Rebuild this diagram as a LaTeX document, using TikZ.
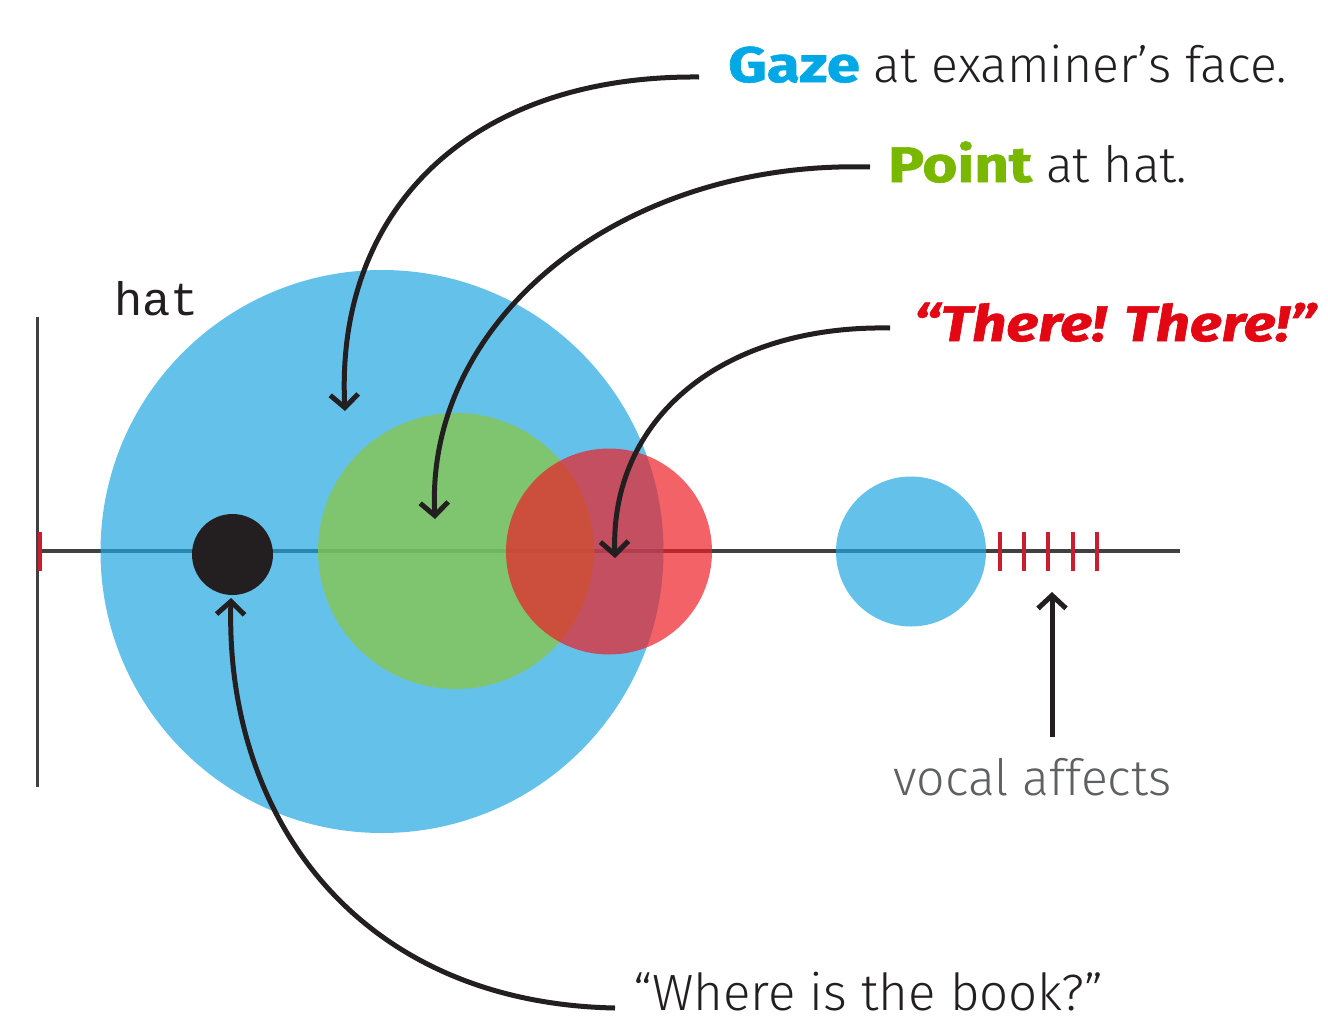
\documentclass[tikz,border=0pt]{standalone}
\usepackage{fontspec}
\setsansfont{Fira Sans}
\newfontfamily\lightf{Fira Sans Light}
\setmonofont{Liberation Mono}
\usetikzlibrary{arrows.meta}
\definecolor{ink}{RGB}{35,31,32}
\definecolor{axis}{RGB}{64,64,64}
\definecolor{cblue}{RGB}{30,167,225}
\definecolor{cgreen}{RGB}{137,197,71}
\definecolor{cred}{RGB}{236,31,39}
\definecolor{tickred}{RGB}{200,30,45}
\definecolor{gazeblue}{RGB}{0,169,230}
\definecolor{pointgreen}{RGB}{122,184,0}
\definecolor{therered}{RGB}{227,6,19}
\definecolor{vocgray}{RGB}{95,96,98}
\newcommand{\heavy}[2]{{\sffamily\bfseries\addfontfeature{FakeBold=1.2}\color{#1}\scalebox{1.2}[1]{#2}}}
\begin{document}
\begin{tikzpicture}[x=1pt,y=-1pt,
  arr/.style={draw=ink, line width=5pt, -{Straight Barb[length=13pt,width=28pt,line width=5pt]}},
  disc/.style={circle, inner sep=0pt, draw=none},
  lbl/.style={anchor=base west, inner sep=0pt, font=\lightf\fontsize{50}{60}\selectfont, text=ink},
  tickmark/.style={draw=tickred, line width=3.5pt}]
\useasboundingbox (0,0) rectangle (1328,1023);
% axes
\coordinate (vtop) at (37,317);
\coordinate (vbot) at (37,787);
\draw[draw=axis, line width=3pt] (vtop) -- (vbot);
\coordinate (hl) at (37,551);
\coordinate (hr) at (1180,551);
\draw[draw=axis, line width=4.5pt] (hl) -- (hr);
\draw[tickmark] (40,532) -- (40,571);
% circles
\node[disc, fill=cblue, fill opacity=0.69, minimum size=563pt] (gazeC) at (382,551.5) {};
\node[disc, fill=cgreen, fill opacity=0.75, minimum size=276pt] (pointC) at (456,551) {};
\node[disc, fill=cred, fill opacity=0.7, minimum size=206pt] (thereC) at (609,551.5) {};
\node[disc, fill=ink, minimum size=81pt] (dot) at (232.5,554.5) {};
\node[disc, fill=cblue, fill opacity=0.69, minimum size=150pt] (smallC) at (911,551.5) {};
% red ticks
\foreach \x in {1000,1024,1048,1073,1097}
  \draw[tickmark] (\x,532) -- (\x,571);
% labels
\node[lbl] (gazeT) at (728,82) {\heavy{gazeblue}{Gaze} at examiner’s face.};
\node[lbl] (pointT) at (888,182) {\heavy{pointgreen}{Point} at hat.};
\node[lbl, font=\sffamily\bfseries\itshape\fontsize{50}{60}\selectfont, text=therered] (thereT) at (913,341) {\addfontfeature{FakeBold=1.2}\scalebox{1.2}[1]{“There! There!”}};
\node[lbl, font=\lightf\fontsize{51}{60}\selectfont] (whereT) at (633,1010) {“Where is the book?”};
\node[lbl, text=vocgray] (vocT) at (893,795) {vocal affects};
\node[lbl, font=\ttfamily\fontsize{47}{50}\selectfont] (hatT) at (114,315) {hat};
% connector endpoints
\coordinate (gazeS) at (699,77);
\coordinate (gazeE) at (345,411);
\coordinate (pointS) at (870,167);
\coordinate (pointE) at (435,519);
\coordinate (thereS) at (890,328);
\coordinate (thereE) at (615,558);
\coordinate (whereS) at (615,1008);
\coordinate (whereE) at (231,598);
\coordinate (vocS) at (1052,737);
\coordinate (vocE) at (1052,592);
% connectors
\draw[arr] (gazeS) .. controls (470,75) and (335,210) .. (gazeE);
\draw[arr] (pointS) .. controls (620,160) and (425,320) .. (pointE);
\draw[arr] (thereS) .. controls (720,325) and (610,420) .. (thereE);
\draw[arr] (whereS) .. controls (360,1003) and (225,820) .. (whereE);
\draw[arr] (vocS) -- (vocE);
\end{tikzpicture}
\end{document}
